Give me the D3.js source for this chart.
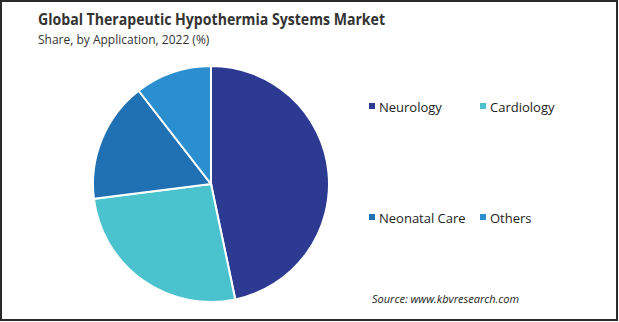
<!DOCTYPE html>
<html>
<head>
<meta charset="utf-8">
<script src="https://cdn.jsdelivr.net/npm/d3@7"></script>
<style>
  html, body { margin: 0; padding: 0; background: #fff; }
  svg text { font-family: "Open Sans", "Noto Sans", sans-serif; fill: #222; }
</style>
</head>
<body>
<div id="chart"></div>
<script>
var categories = ['Neurology', 'Cardiology', 'Neonatal Care', 'Others'];
var shares = [46.7, 26.3, 16.5, 10.5];
var colors = ['#2c3a91', '#4bc3cf', '#1f71b3', '#2b8fcf'];

var w = 619, h = 322;
var svg = d3.select('#chart')
    .append('svg')
        .attr('width', w)
        .attr('height', h);

// frame
svg.append('rect')
    .attr('x', 1).attr('y', 1)
    .attr('width', w - 3).attr('height', h - 3)
    .style('fill', '#fff')
    .style('stroke', '#2a2a2a')
    .style('stroke-width', 2);

// titles
svg.append('text')
    .text('Global Therapeutic Hypothermia Systems Market')
    .attr('x', 38).attr('y', 25)
    .attr('textLength', 347)
    .attr('lengthAdjust', 'spacingAndGlyphs')
    .style('font-size', '15.5px')
    .style('font-weight', 'bold')
    .style('fill', '#333');

svg.append('text')
    .text('Share, by Application, 2022 (%)')
    .attr('x', 38).attr('y', 44)
    .style('font-size', '12px')
    .style('fill', '#333');

// pie
var pie = d3.pie().sort(null)(shares);
var arc = d3.arc().innerRadius(0).outerRadius(118);

svg.append('g')
    .attr('transform', 'translate(211,184)')
    .selectAll('path')
    .data(pie)
    .enter()
    .append('path')
        .attr('d', arc)
        .style('fill', function (d, i) { return colors[i]; })
        .style('stroke', '#fff')
        .style('stroke-width', 2);

// legend, two rows of two
var legendPos = [[369, 107], [480, 107], [369, 218], [480, 218]];
var legend = svg.selectAll('.legend')
    .data(categories)
    .enter()
    .append('g')
        .attr('transform', function (d, i) { return 'translate(' + legendPos[i][0] + ',' + legendPos[i][1] + ')'; });

legend.append('rect')
    .attr('x', 0).attr('y', -4)
    .attr('width', 6).attr('height', 6)
    .style('fill', function (d, i) { return colors[i]; });

legend.append('text')
    .text(function (d) { return d; })
    .attr('x', 10).attr('y', 0)
    .attr('dy', '0.35em')
    .style('font-size', '13px');

svg.append('text')
    .text('Source: www.kbvresearch.com')
    .attr('x', 372).attr('y', 303)
    .style('font-size', '11px')
    .style('font-style', 'italic');
</script>
</body>
</html>
